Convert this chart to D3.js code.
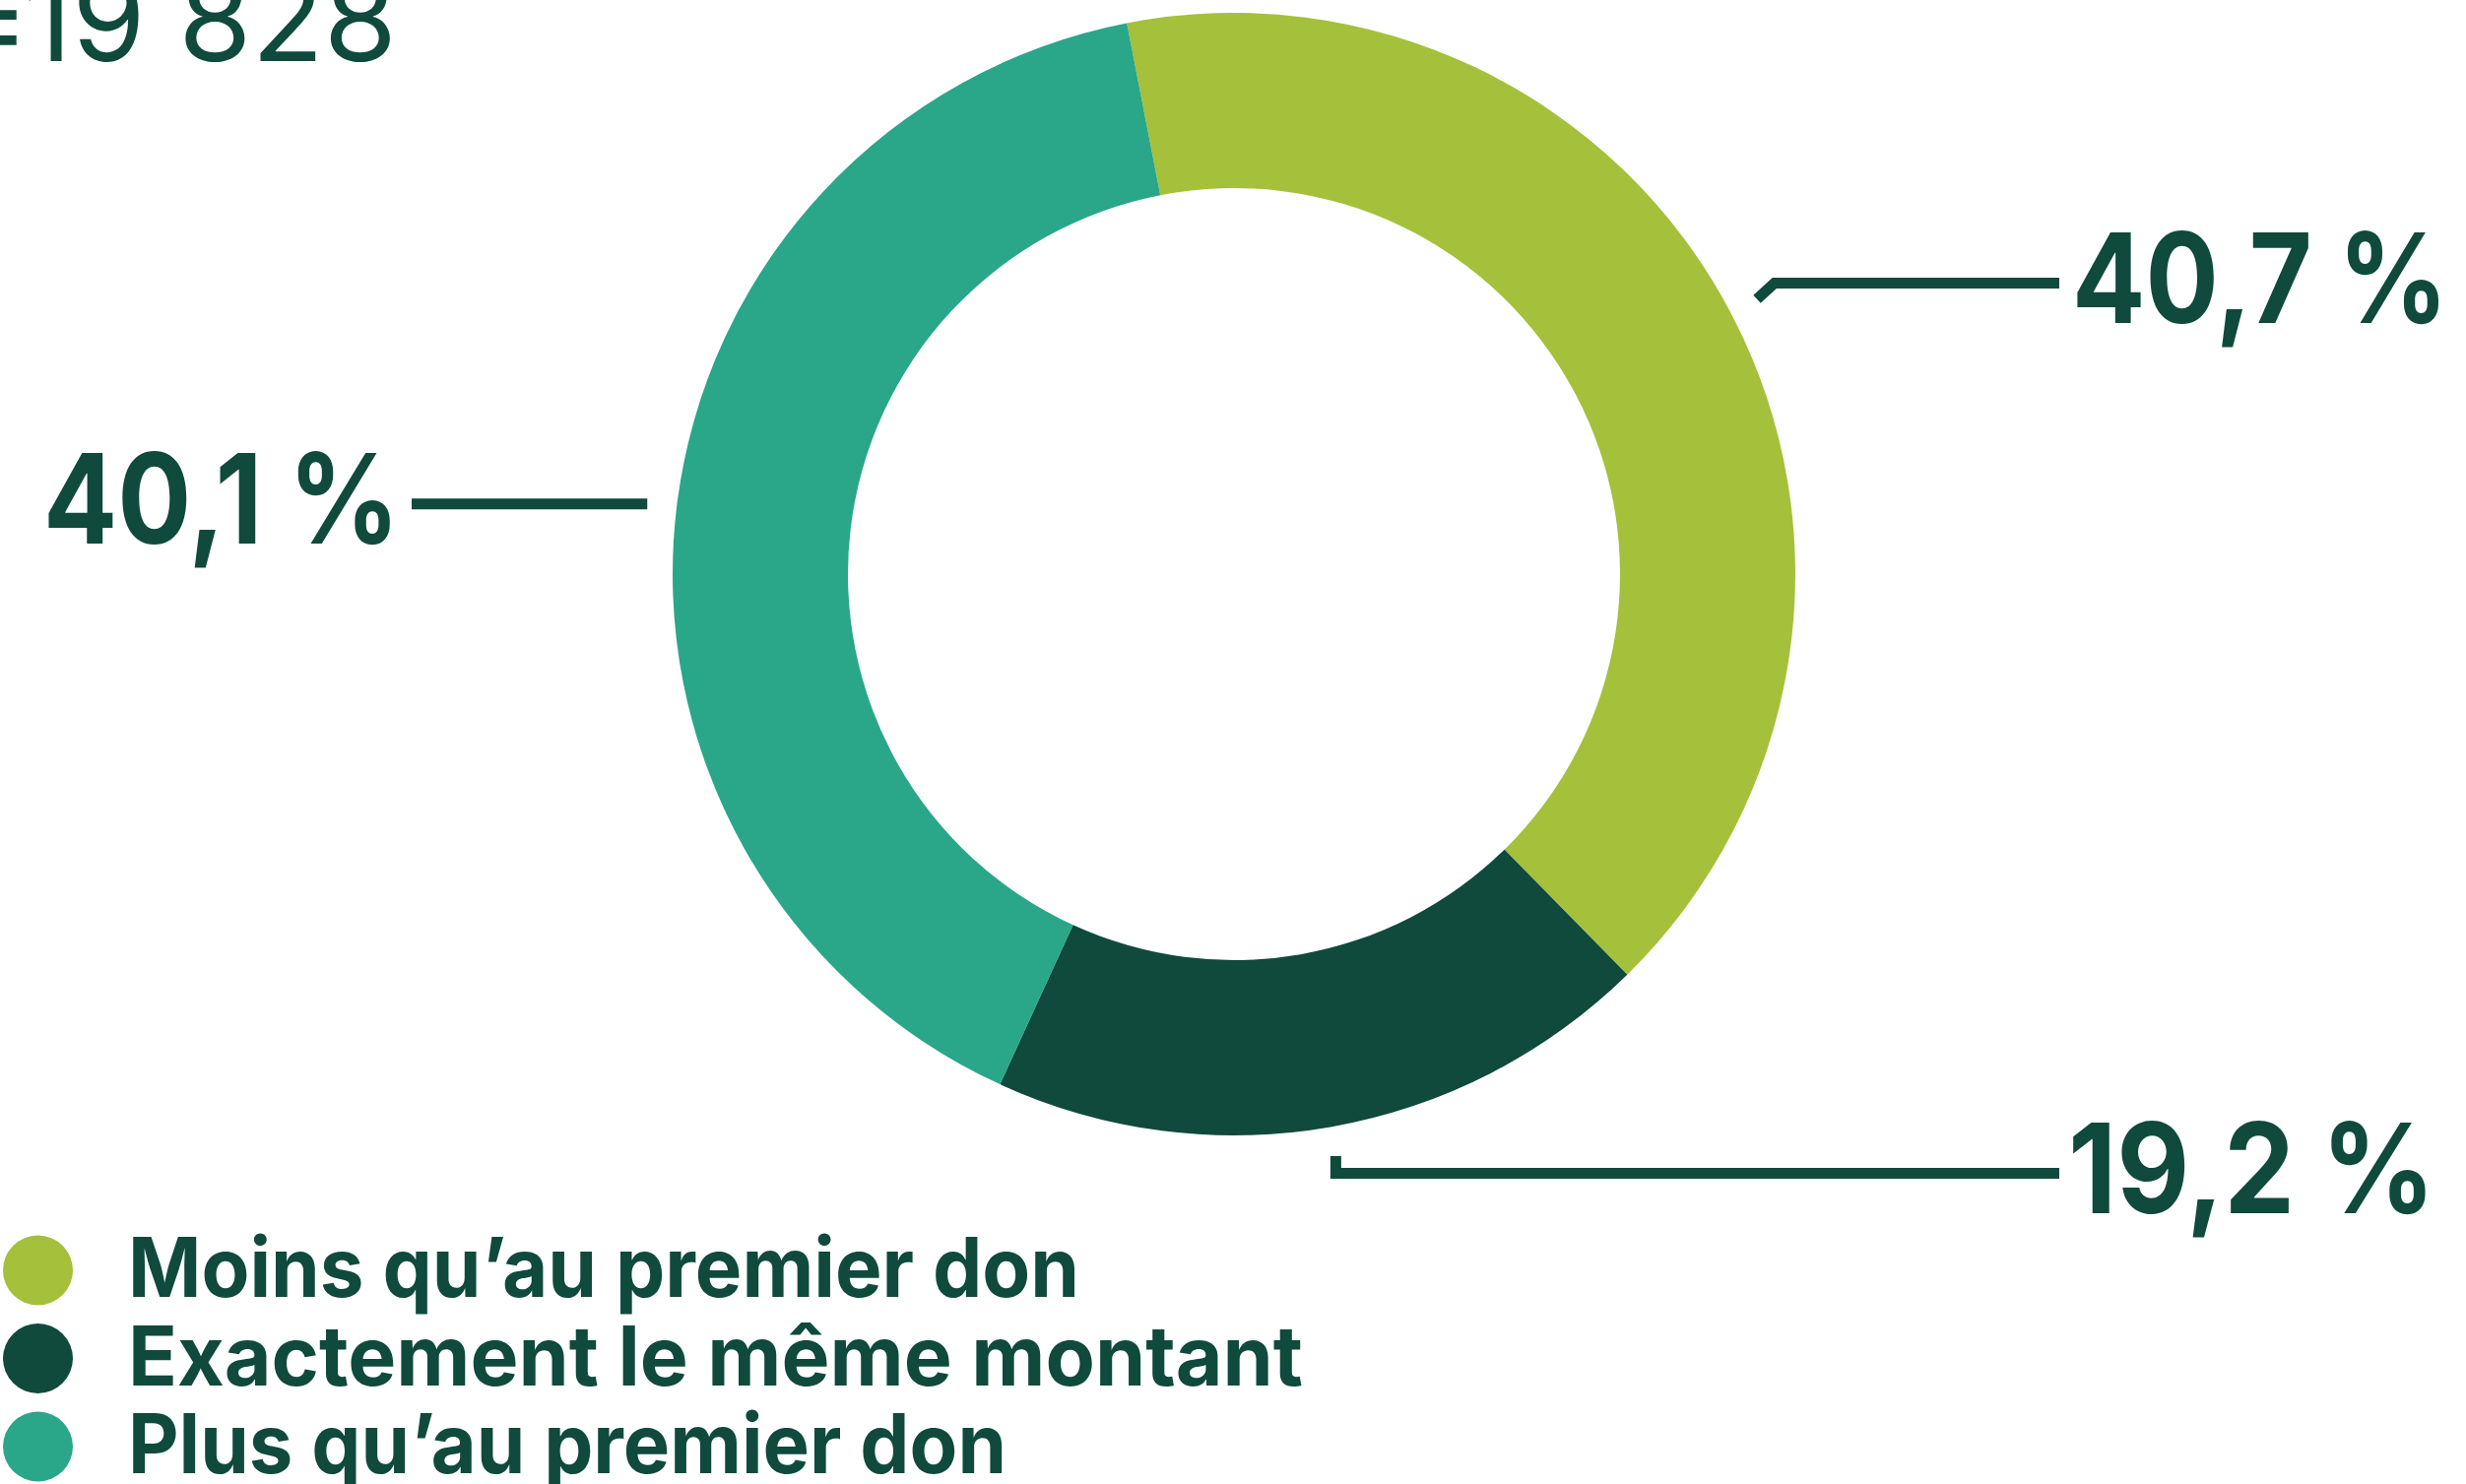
<!DOCTYPE html>
<html>
<head>
<meta charset="utf-8">
<script src="https://cdn.jsdelivr.net/npm/d3@7"></script>
<style>
  html, body { margin: 0; padding: 0; background: #ffffff; }
  svg { display: block; }
</style>
</head>
<body>
<svg id="chart" width="2504" height="1507"></svg>
<script>
// ---- Data ----
const categories = ["Moins qu\u2019au premier don", "Exactement le m\u00eame montant", "Plus qu\u2019au premier don"];
const values = [40.7, 19.2, 40.1];
const colors = ["#A5C03A", "#0F4A3C", "#2AA689"];
const totalPrefix = "n\u00a0=";
const totalValue = "19\u00a0828";

// ---- Layout ----
const TEXT = "#0F4A3C";
const FONT = "Inter, 'Noto Sans', sans-serif";
const cx = 1253, cy = 583;
const rOuter = 570, rInner = 392;
const rLeader = 600;

const svg = d3.select("#chart");

const pie = d3.pie().sort(null).value(d => d)
  .startAngle(-11 * Math.PI / 180)
  .endAngle(-11 * Math.PI / 180 + 2 * Math.PI);
const arcs = pie(values);
const arc = d3.arc().innerRadius(rInner).outerRadius(rOuter);

const g = svg.append("g").attr("transform", `translate(${cx},${cy})`);
g.selectAll("path.slice").data(arcs).enter().append("path")
  .attr("class", "slice")
  .attr("d", arc)
  .attr("fill", (d, i) => colors[i]);

// ---- Labels with leaders ----
const fmt = v => v.toFixed(1).replace(".", ",") + "\u00a0%";
const labelLayout = [
  { ly: 287.5, endX: 2091, side: "right", k: 1.1, tx: 2104, tl: 382 },
  { ly: 1191.5, endX: 2091, side: "right", k: 0, tx: 2100, tl: 373 },
  { ly: null, endX: 418, side: "left", k: 0, tx: 406, tl: 362 }
];

arcs.forEach((a, i) => {
  const mid = (a.startAngle + a.endAngle) / 2;
  const p0 = [cx + rLeader * Math.sin(mid), cy - rLeader * Math.cos(mid)];
  const L = labelLayout[i];
  const ly = L.ly == null ? p0[1] : L.ly;
  const dir = L.side === "right" ? 1 : -1;
  const elbow = [p0[0] + dir * L.k * Math.abs(ly - p0[1]), ly];
  const pts = [p0, elbow, [L.endX, ly]];
  svg.append("path")
    .attr("d", d3.line()(pts))
    .attr("fill", "none")
    .attr("stroke", TEXT)
    .attr("stroke-width", 11)
    .attr("stroke-linejoin", "miter")
    .attr("stroke-linecap", "butt");
  svg.append("text")
    .attr("x", L.tx)
    .attr("y", ly + 40.5)
    .attr("text-anchor", L.side === "right" ? "start" : "end")
    .attr("font-family", FONT)
    .attr("font-weight", 700)
    .attr("font-size", 127)
    .attr("fill", TEXT)
    .attr("textLength", L.tl)
    .attr("lengthAdjust", "spacingAndGlyphs")
    .text(fmt(values[i]));
});

// ---- Total (partially cut off at top-left) ----
const total = svg.append("text")
  .attr("y", 62)
  .attr("text-anchor", "end")
  .attr("font-family", FONT)
  .attr("font-weight", 400)
  .attr("font-size", 120)
  .attr("fill", TEXT);
total.append("tspan").attr("x", 30).text(totalPrefix);
total.append("tspan").attr("x", 403).text(totalValue);

// ---- Legend ----
const legend = svg.append("g");
const legY = d3.scalePoint().domain(categories).range([1290, 1469]);
const legendLengths = [966, 1193, 892];
const item = legend.selectAll("g.item").data(categories).enter().append("g").attr("class", "item");
item.append("circle")
  .attr("cx", 38.5)
  .attr("cy", d => legY(d))
  .attr("r", 35.5)
  .attr("fill", (d, i) => colors[i]);
item.append("text")
  .attr("x", 130)
  .attr("y", d => legY(d) + 27)
  .attr("font-family", FONT)
  .attr("font-weight", 700)
  .attr("font-size", 84)
  .attr("fill", TEXT)
  .attr("textLength", (d, i) => legendLengths[i])
  .attr("lengthAdjust", "spacingAndGlyphs")
  .text(d => d);
</script>
</body>
</html>
